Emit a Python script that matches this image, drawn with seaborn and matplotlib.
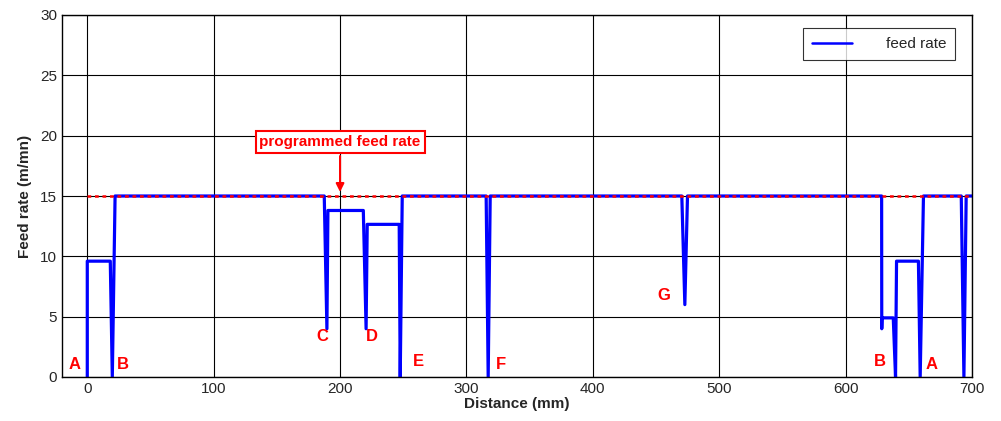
import numpy as np
import pandas as pd
import seaborn as sns
import matplotlib.pyplot as plt

# feed rate trace (mm, m/mn)
distance = [0, 0, 18.2, 19.8, 22, 187.5, 189.6, 190.4, 218.4, 220.6, 221.5, 246.8, 247.6, 249.2,
            315.6, 317.2, 318.8, 470.4, 472.8, 474.9,
            628.5, 628.6, 628.8, 637.7, 639.5, 640.3, 657.6, 659, 661.6, 691.5, 693.6, 695.4, 700]
feed = [0, 9.6, 9.6, 0, 15, 15, 4.0, 13.8, 13.8, 4.0, 12.65, 12.65, 0, 15,
        15, 0, 15, 15, 6.0, 15,
        15, 4.0, 4.9, 4.9, 0, 9.6, 9.6, 0, 15, 15, 0, 15, 15]

programmed_x = [0, 700]
programmed_y = [15, 15]

point_labels = ["A", "B", "C", "D", "E", "F", "G", "B", "A"]
label_x = [-10, 28, 186, 225, 262, 327, 456, 627, 668]
label_y = [0.4, 0.4, 2.7, 2.7, 0.7, 0.4, 6.1, 0.7, 0.4]

sns.set_style("white")
plt.rcParams['font.family'] = ['Liberation Sans', 'DejaVu Sans']

fig = plt.figure(figsize=(10.01, 4.21), dpi=100)
ax = fig.add_axes([62 / 1001, 1 - 377 / 421, 910 / 1001, 362 / 421])

df = pd.DataFrame({"Distance": distance, "Feed": feed})
sns.lineplot(data=df, x="Distance", y="Feed", sort=False, estimator=None,
             color="#0000ff", linewidth=2.3, ax=ax, label="feed rate")
ax.plot(programmed_x, programmed_y, color="red", linestyle=(0, (1.5, 1.5)), linewidth=1.8,
        zorder=5)

for t, x, y in zip(point_labels, label_x, label_y):
    ax.text(x, y, t, color="red", fontsize=12, fontweight="bold", ha="center", va="bottom")

ax.annotate("programmed feed rate", xy=(200, 15.1), xytext=(200, 19.5),
            ha="center", va="center", color="red", fontsize=11, fontweight="bold",
            bbox=dict(boxstyle="square,pad=0.25", fc="white", ec="red", lw=1.5),
            arrowprops=dict(arrowstyle="-|>", color="red", lw=1.5, mutation_scale=12))

ax.set_xlim(-20, 700)
ax.set_ylim(0, 30)
ax.set_xticks(np.arange(0, 701, 100))
ax.set_yticks(np.arange(0, 31, 5))
ax.grid(True, color="black", linewidth=0.8)
ax.set_axisbelow(True)
ax.tick_params(direction="in", labelsize=11, length=4)
for s in ax.spines.values():
    s.set_color("black")
    s.set_linewidth(1.0)
ax.set_xlabel("Distance (mm)", fontsize=11, fontweight="bold", labelpad=1)
ax.set_ylabel("Feed rate (m/mn)", fontsize=11, fontweight="bold", labelpad=6)

leg = ax.legend(loc="upper right", bbox_to_anchor=(0.99, 0.985), fontsize=11, frameon=True,
                fancybox=False, edgecolor="black", handlelength=2.6, handletextpad=2.2,
                borderpad=0.6)
leg.get_frame().set_linewidth(0.8)
for h in leg.get_lines():
    h.set_linewidth(1.8)

fig.savefig("out.png", dpi=100)
